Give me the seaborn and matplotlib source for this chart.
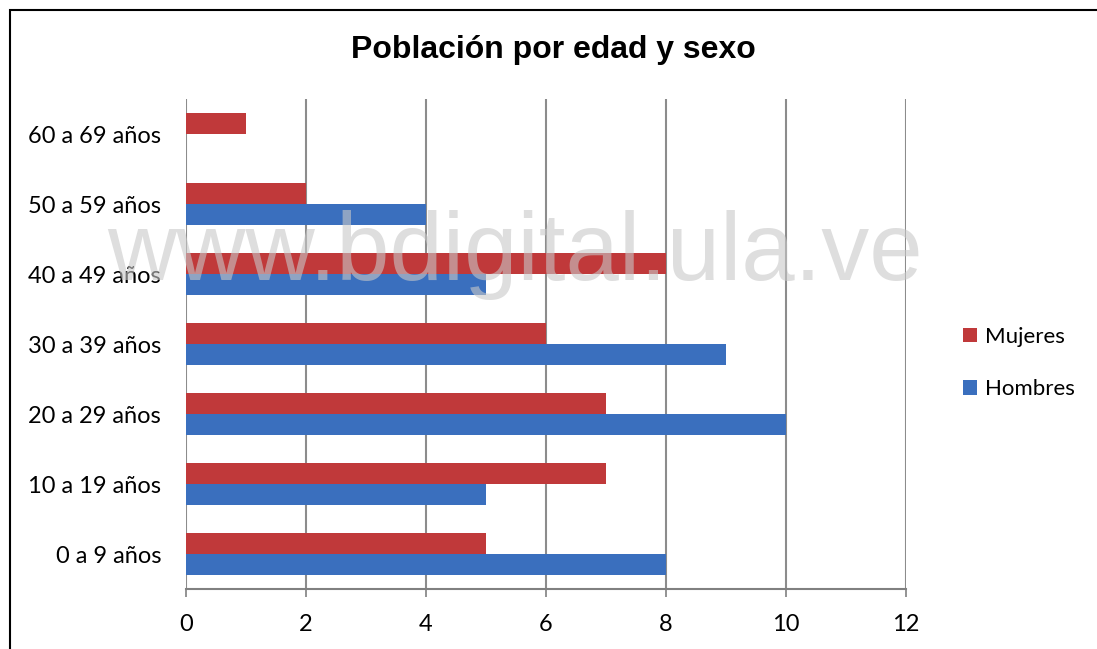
import pandas as pd
import matplotlib
matplotlib.use("Agg")
import matplotlib.pyplot as plt
import seaborn as sns
from matplotlib.patches import Rectangle

# data (top to bottom)
grupos = ["60 a 69 años", "50 a 59 años", "40 a 49 años", "30 a 39 años",
          "20 a 29 años", "10 a 19 años", "0 a 9 años"]
mujeres = [1, 2, 8, 6, 7, 7, 5]
hombres = [0, 4, 5, 9, 10, 5, 8]
series = ["Mujeres", "Hombres"]
x_ticks = [0, 2, 4, 6, 8, 10, 12]

df = pd.DataFrame({
    "grupo": grupos * 2,
    "valor": mujeres + hombres,
    "sexo": ["Mujeres"] * len(grupos) + ["Hombres"] * len(grupos),
})

sns.set_theme(style="white")
plt.rcParams["font.family"] = ["Lato", "DejaVu Sans"]
plt.rcParams["text.color"] = "black"
plt.rcParams["xtick.color"] = "black"
plt.rcParams["ytick.color"] = "black"

colores = {"Mujeres": "#C0393A", "Hombres": "#3A6FBE"}

fig = plt.figure(figsize=(10.97, 6.49), dpi=100)
ax = fig.add_axes([186 / 1097, 1 - 589 / 649, 720 / 1097, 490 / 649])

sns.barplot(data=df, x="valor", y="grupo", hue="sexo", order=grupos,
            hue_order=series, palette=colores, orient="h", width=0.6,
            saturation=1, edgecolor="none", ax=ax, zorder=3)

ax.set_xlim(0, 12)
ax.set_xticks(x_ticks)
ax.set_xticklabels([str(t) for t in x_ticks], fontsize=17)
ax.tick_params(axis="y", labelsize=17, length=0, pad=18)
ax.tick_params(axis="x", length=6, width=1.2, color="#808080",
               direction="out", bottom=True, pad=12, labelcolor="black")
ax.set_xlabel("")
ax.set_ylabel("")
ax.grid(axis="x", color="#8c8c8c", linewidth=1.5, zorder=0)
for s in ["top", "right", "left"]:
    ax.spines[s].set_visible(False)
ax.spines["bottom"].set_color("#808080")
ax.spines["bottom"].set_linewidth(1.5)

handles, labels = ax.get_legend_handles_labels()
ax.legend_.remove()
fig.legend(handles[:2], labels[:2], loc="center left",
           bbox_to_anchor=(943 / 1097, 1 - 363 / 649), frameon=False,
           fontsize=16, handlelength=0.65, handleheight=0.65,
           handletextpad=0.35, labelspacing=1.45)

fig.text(553 / 1097, 1 - 50 / 649, "Población por edad y sexo",
         ha="center", va="center", fontsize=23, fontweight="bold",
         family="Liberation Sans", color="black")

# watermark
fig.text(515 / 1097, 1 - 255 / 649, "www.bdigital.ula.ve", ha="center",
         va="center", fontsize=69, color="#c8c8c8", alpha=0.6,
         family="Liberation Sans", zorder=10)

# outer frame
fig.patches.append(Rectangle((10 / 1097, -0.1), 1.2, 1.1 - 10 / 649,
                             transform=fig.transFigure, fill=False,
                             edgecolor="black", linewidth=1.5))

fig.savefig("out.png", dpi=100)
